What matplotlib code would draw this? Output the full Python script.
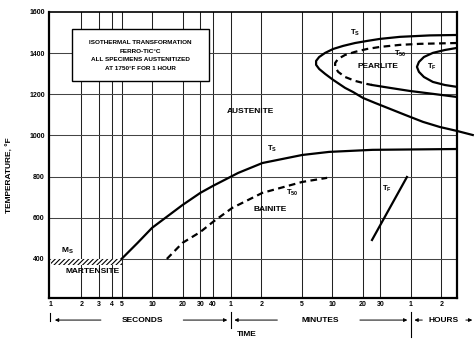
import numpy as np
import matplotlib
matplotlib.use('Agg')
import matplotlib.pyplot as plt
from matplotlib.patches import Rectangle

plt.rcParams['font.family'] = ['Liberation Sans', 'DejaVu Sans']
plt.rcParams['mathtext.fontset'] = 'custom'
plt.rcParams['mathtext.rm'] = 'Liberation Sans:bold'
plt.rcParams['hatch.linewidth'] = 0.8

# time in seconds, temperature in deg F
bain_ts_t = [5, 7.2, 10, 20, 30, 40, 71, 123, 304, 560, 1500, 10230]
bain_ts_T = [400, 478, 551, 662, 721, 755, 818, 866, 905, 920, 930, 934]

bain_t50_t = [14, 20, 30, 40, 62, 123, 304, 536]
bain_t50_T = [400, 478, 531, 580, 648, 721, 774, 794]

bain_tf_t = [1487, 3290]
bain_tf_T = [492, 798]

pearl_ts_t = [10230, 5540, 2808, 1784, 1327, 1011, 771, 614, 512, 447, 417,
              417, 447, 512, 614, 806, 966, 1213, 1592, 2239, 3147, 4730, 6950, 10230, 14700]
pearl_ts_T = [1488, 1486, 1479, 1469, 1459, 1449, 1435, 1420, 1401, 1381, 1362,
              1343, 1323, 1299, 1270, 1231, 1211, 1182, 1158, 1129, 1100, 1066, 1041, 1022, 1002]

pearl_t50_t = [10230, 4420, 2808, 1784, 1327, 1011, 806, 688, 643,
               643, 688, 806, 1011, 1327, 1487]
pearl_t50_T = [1449, 1445, 1440, 1430, 1420, 1406, 1391, 1372, 1352,
               1333, 1309, 1284, 1265, 1250, 1245]
pearl_t50_tail_t = [1487, 2239, 3520, 5930, 10230]
pearl_t50_tail_T = [1245, 1231, 1216, 1202, 1187]

pearl_tf_t = [10230, 7790, 5930, 4840, 4320, 4130, 4320, 4840, 5930, 7790, 10230]
pearl_tf_T = [1425, 1415, 1401, 1381, 1357, 1333, 1309, 1284, 1260, 1245, 1236]

ms_temp = 400
ms_band = 372
ms_t = [1, 5]

xticks = [1, 2, 3, 4, 5, 10, 20, 30, 40, 60, 120, 300, 600, 1200, 1800, 3600, 7200]
xlabels = ['1', '2', '3', '4', '5', '10', '20', '30', '40', '1', '2', '5', '10', '20', '30', '1', '2']
yticks = [400, 600, 800, 1000, 1200, 1400, 1600]

fig = plt.figure(figsize=(4.77, 3.41), dpi=100)
ax = fig.add_axes([0.1027, 0.126, 0.855, 0.839])
ax.set_xscale('log')
ax.set_xlim(0.96, 10230)
ax.set_ylim(210, 1600)

for x in xticks[1:]:
    ax.axvline(x, color='#222222', lw=0.75, zorder=1)
for y in yticks[:-1]:
    ax.axhline(y, color='#444444', lw=0.75, zorder=1)

ax.set_xticks(xticks)
ax.set_xticklabels(xlabels)
ax.xaxis.set_minor_locator(matplotlib.ticker.NullLocator())
ax.set_yticks(yticks)
ax.tick_params(length=0, labelsize=5, pad=3)
ax.tick_params(axis='x', pad=2)
for lab in ax.get_xticklabels() + ax.get_yticklabels():
    lab.set_fontweight('bold')
for s in ax.spines.values():
    s.set_linewidth(1.6)
ax.spines['top'].set_linewidth(1.2)

lw = 1.6
dash = (0, (3, 2))
ax.plot(bain_ts_t, bain_ts_T, 'k-', lw=lw, zorder=4)
ax.plot(bain_t50_t, bain_t50_T, 'k', ls=dash, lw=lw, zorder=4)
ax.plot(bain_tf_t, bain_tf_T, 'k-', lw=lw, zorder=4)
ax.plot(pearl_ts_t, pearl_ts_T, 'k-', lw=lw, zorder=4, clip_on=False)
ax.plot(pearl_t50_t, pearl_t50_T, 'k', ls=dash, lw=lw, zorder=4)
ax.plot(pearl_t50_tail_t, pearl_t50_tail_T, 'k-', lw=lw, zorder=4)
ax.plot(pearl_tf_t, pearl_tf_T, 'k-', lw=lw, zorder=4)

# Ms band
ax.fill_between(ms_t, ms_band, ms_temp, facecolor='white', edgecolor='black',
                hatch='///////', lw=0, zorder=3)

tkw = dict(fontsize=6, fontweight='bold', ha='center', va='center', zorder=5)
skw = dict(fontsize=5.5, ha='center', va='center', zorder=5)
ax.text(1.47, 438, r'$\mathrm{M_S}$', fontsize=6, ha='center', va='center')
ax.text(2.59, 337, 'MARTENSITE', **tkw)
ax.text(93, 1114, 'AUSTENITE', **tkw)
ax.text(147, 638, 'BAINITE', **tkw)
ax.text(1706, 1333, 'PEARLITE', **tkw)
ax.text(154, 935, r'$\mathrm{T_S}$', **skw)
ax.text(242, 721, r'$\mathrm{T_{50}}$', **skw)
ax.text(2090, 740, r'$\mathrm{T_F}$', **skw)
ax.text(1011, 1500, r'$\mathrm{T_S}$', **skw)
ax.text(2808, 1395, r'$\mathrm{T_{50}}$', **skw)
ax.text(5800, 1335, r'$\mathrm{T_F}$', **skw)

# caption box
ax.add_patch(Rectangle((0.056, 0.759), 0.336, 0.182, transform=ax.transAxes,
                       fc='white', ec='black', lw=1.0, zorder=6))
box_lines = ['ISOTHERMAL TRANSFORMATION', 'FERRO-TIC\u00b0C',
             'ALL SPECIMENS AUSTENITIZED', 'AT 1750\u00b0F FOR 1 HOUR']
for yy, s in zip([0.892, 0.862, 0.832, 0.804], box_lines):
    ax.text(0.224, yy, s, transform=ax.transAxes, fontsize=4.6, fontweight='bold',
            ha='center', va='center', zorder=7)

# time scale annotations under the axis
tr = ax.get_xaxis_transform()
row = -0.077
akw = dict(arrowstyle='-|>', lw=0.7, color='black', mutation_scale=5)
lkw = dict(fontsize=6, fontweight='bold', ha='center', va='center', transform=tr)

ax.plot([0.98, 0.98], [-0.052, -0.082], 'k-', lw=0.8, transform=tr, clip_on=False)
ax.annotate('', xy=(1.03, row), xytext=(3.33, row), xycoords=tr, textcoords=tr, arrowprops=akw)
ax.text(8.06, row, 'SECONDS', **lkw)
ax.annotate('', xy=(59, row), xytext=(19.1, row), xycoords=tr, textcoords=tr, arrowprops=akw)

ax.plot([60, 60], [-0.049, -0.105], 'k-', lw=0.8, transform=tr, clip_on=False)
ax.annotate('', xy=(61, row), xytext=(184, row), xycoords=tr, textcoords=tr, arrowprops=akw)
ax.text(457, row, 'MINUTES', **lkw)
ax.annotate('', xy=(3540, row), xytext=(1060, row), xycoords=tr, textcoords=tr, arrowprops=akw)

ax.plot([3600, 3600], [-0.049, -0.136], 'k-', lw=0.8, transform=tr, clip_on=False)
ax.annotate('', xy=(3660, row), xytext=(4970, row), xycoords=tr, textcoords=tr, arrowprops=akw)
ax.text(7600, row, 'HOURS', **lkw)
ax.annotate('', xy=(15500, row), xytext=(11800, row), xycoords=tr, textcoords=tr, arrowprops=akw)

ax.text(87, -0.129, 'TIME', **lkw)

fig.text(10 / 477, 1 - 175 / 341, 'TEMPERATURE, \u00b0F', rotation=90, fontsize=6,
         fontweight='bold', ha='center', va='center')

fig.savefig('out.png', dpi=100)
